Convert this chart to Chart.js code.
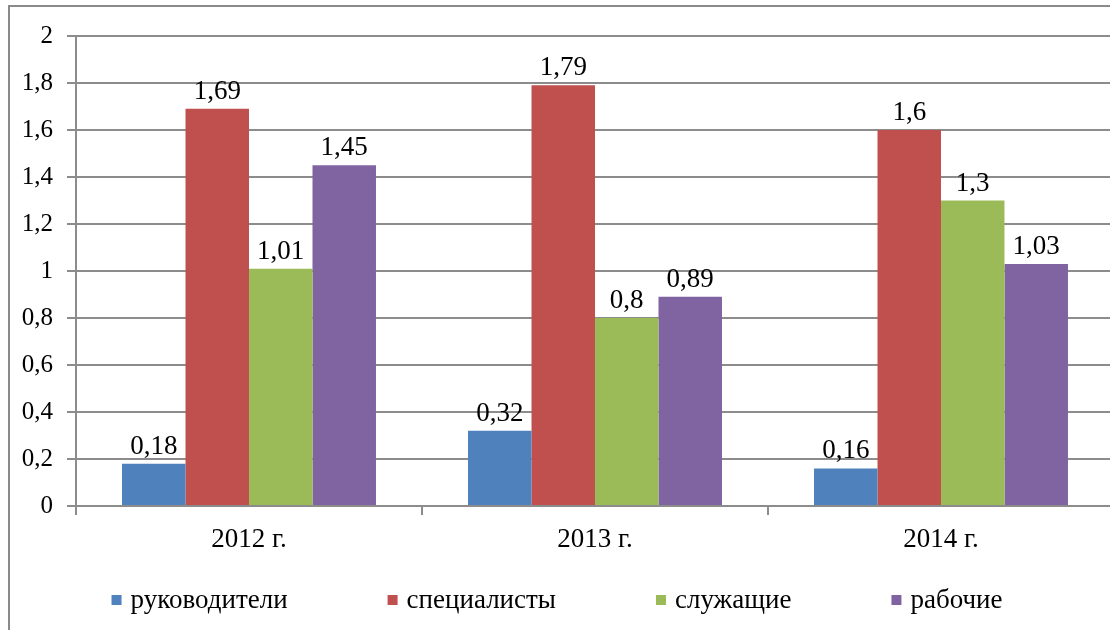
<!DOCTYPE html>
<html>
<head>
<meta charset="utf-8">
<script src="https://cdn.jsdelivr.net/npm/chart.js@4"></script>
<style>
  html, body { margin: 0; padding: 0; background: #fff; overflow: hidden; }
  .box {
    position: absolute;
    left: 8px;
    top: 5px;
    width: 1115px;
    height: 640px;
    border: 2px solid #8a8a8a;
  }
</style>
</head>
<body>
<div class="box">
  <canvas id="staffChart" width="1115" height="630"></canvas>
</div>
<script>
const years = ["2012 г.", "2013 г.", "2014 г."];
const seriesNames = ["руководители", "специалисты", "служащие", "рабочие"];
const managers = [0.18, 0.32, 0.16];
const specialists = [1.69, 1.79, 1.6];
const clerks = [1.01, 0.8, 1.3];
const workers = [1.45, 0.89, 1.03];
const yTicks = [0, 0.2, 0.4, 0.6, 0.8, 1, 1.2, 1.4, 1.6, 1.8, 2];

const barColors = ["#4f81bd", "#c0504d", "#9bbb59", "#8064a2"];
const gridColor = "#8c8c8c";
const fontFamily = "'Liberation Serif', 'DejaVu Serif', serif";
const textSize = 27;

function commaNum(v) {
  return String(Math.round(v * 100) / 100).replace(".", ",");
}

// value labels above the bars
const barLabels = {
  id: "barLabels",
  afterDatasetsDraw(chart) {
    const ctx = chart.ctx;
    ctx.save();
    ctx.font = textSize + "px " + fontFamily;
    ctx.fillStyle = "#000";
    ctx.textAlign = "center";
    ctx.textBaseline = "alphabetic";
    chart.data.datasets.forEach((ds, i) => {
      chart.getDatasetMeta(i).data.forEach((bar, j) => {
        ctx.fillText(commaNum(ds.data[j]), bar.x, bar.y - 10);
      });
    });
    ctx.restore();
  }
};

// legend row at the bottom, spaced like the original
const bottomLegend = {
  id: "bottomLegend",
  afterDraw(chart, args, opts) {
    const ctx = chart.ctx;
    ctx.save();
    ctx.font = textSize + "px " + fontFamily;
    const items = chart.data.datasets.map(ds => ({
      text: ds.label,
      color: ds.backgroundColor,
      w: opts.textOffset + ctx.measureText(ds.label).width
    }));
    let total = items.reduce((s, it) => s + it.w, 0) + opts.gap * (items.length - 1);
    let x = opts.centerX - total / 2;
    ctx.textBaseline = "middle";
    ctx.textAlign = "left";
    items.forEach(it => {
      ctx.fillStyle = it.color;
      ctx.fillRect(x, opts.y - 5, 10, 10);
      ctx.fillStyle = "#000";
      ctx.fillText(it.text, x + opts.textOffset, opts.y + 1);
      x += it.w + opts.gap;
    });
    ctx.restore();
  }
};

const datasets = [managers, specialists, clerks, workers].map((values, i) => ({
  label: seriesNames[i],
  data: values,
  backgroundColor: barColors[i],
  borderWidth: 0,
  categoryPercentage: 0.734,
  barPercentage: 1
}));

new Chart("staffChart", {
  type: "bar",
  data: {
    labels: years,
    datasets: datasets
  },
  plugins: [barLabels, bottomLegend],
  options: {
    responsive: false,
    animation: false,
    layout: {
      padding: { top: 26, right: 11, bottom: 81, left: 0 }
    },
    plugins: {
      legend: { display: false },
      tooltip: { enabled: false },
      bottomLegend: { centerX: 547, y: 593, gap: 100, textOffset: 19 }
    },
    scales: {
      x: {
        afterFit(scale) { scale.height = 50; },
        grid: {
          offset: true,
          drawOnChartArea: false,
          drawTicks: true,
          tickLength: 9,
          color: gridColor,
          lineWidth: 2
        },
        border: { display: true, color: gridColor, width: 2 },
        ticks: {
          color: "#000",
          padding: 9,
          font: { family: fontFamily, size: textSize }
        }
      },
      y: {
        min: 0,
        max: 2,
        afterFit(scale) { scale.width = 66; },
        afterBuildTicks(scale) {
          scale.ticks = yTicks.map(v => ({ value: v }));
        },
        grid: {
          color: gridColor,
          lineWidth: 2,
          drawTicks: true,
          tickLength: 9
        },
        border: { display: true, color: gridColor, width: 2 },
        ticks: {
          color: "#000",
          padding: 14,
          font: { family: fontFamily, size: 25 },
          callback: v => commaNum(v)
        }
      }
    }
  }
});
</script>
</body>
</html>
